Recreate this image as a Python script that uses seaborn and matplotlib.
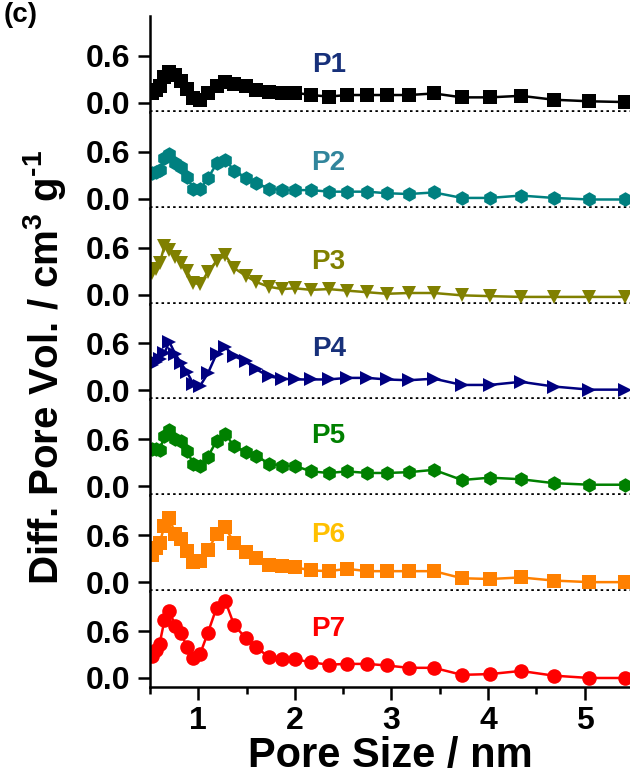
import matplotlib
matplotlib.use("Agg")
import matplotlib.pyplot as plt
import seaborn as sns

# pore size grid (nm)
pore_size = [0.52, 0.56, 0.60, 0.65, 0.70, 0.76, 0.82, 0.88, 0.95, 1.02, 1.10,
             1.19, 1.28, 1.37, 1.49, 1.60, 1.73, 1.87, 2.00, 2.17, 2.35, 2.54,
             2.75, 2.95, 3.18, 3.44, 3.73, 4.02, 4.34, 4.68, 5.05, 5.42]

p1 = [0.12, 0.16, 0.22, 0.33, 0.40, 0.35, 0.28, 0.18, 0.06, 0.04, 0.13,
      0.22, 0.27, 0.24, 0.21, 0.17, 0.14, 0.13, 0.13, 0.10, 0.08, 0.10,
      0.10, 0.10, 0.10, 0.12, 0.07, 0.07, 0.09, 0.04, 0.02, 0.01]
p2 = [0.33, 0.34, 0.37, 0.52, 0.57, 0.46, 0.40, 0.28, 0.13, 0.12, 0.26,
      0.45, 0.50, 0.36, 0.27, 0.20, 0.13, 0.11, 0.11, 0.11, 0.09, 0.09,
      0.09, 0.07, 0.06, 0.08, 0.01, 0.01, 0.04, 0.01, -0.01, -0.01]
p3 = [0.28, 0.33, 0.40, 0.62, 0.57, 0.48, 0.40, 0.30, 0.15, 0.13, 0.29,
      0.43, 0.50, 0.34, 0.24, 0.16, 0.10, 0.07, 0.08, 0.06, 0.07, 0.05,
      0.03, 0.01, 0.02, 0.02, -0.01, -0.02, -0.03, -0.03, -0.03, -0.03]
p4 = [0.32, 0.36, 0.40, 0.48, 0.62, 0.47, 0.35, 0.24, 0.08, 0.06, 0.22,
      0.47, 0.55, 0.44, 0.37, 0.27, 0.18, 0.15, 0.14, 0.14, 0.14, 0.16,
      0.16, 0.14, 0.13, 0.15, 0.07, 0.07, 0.11, 0.05, 0.01, 0.01]
p5 = [0.48, 0.47, 0.46, 0.64, 0.72, 0.61, 0.58, 0.45, 0.29, 0.26, 0.38,
      0.58, 0.67, 0.51, 0.44, 0.39, 0.29, 0.26, 0.26, 0.19, 0.17, 0.19,
      0.17, 0.17, 0.18, 0.21, 0.08, 0.11, 0.09, 0.04, 0.02, 0.02]
p6 = [0.35, 0.43, 0.50, 0.72, 0.82, 0.62, 0.55, 0.40, 0.26, 0.27, 0.41,
      0.61, 0.70, 0.50, 0.38, 0.31, 0.22, 0.20, 0.19, 0.15, 0.14, 0.17,
      0.14, 0.14, 0.14, 0.14, 0.05, 0.04, 0.06, 0.02, 0.00, 0.00]
p7 = [0.28, 0.36, 0.44, 0.74, 0.86, 0.67, 0.58, 0.40, 0.25, 0.31, 0.58,
      0.90, 0.98, 0.68, 0.51, 0.39, 0.27, 0.24, 0.24, 0.20, 0.17, 0.18,
      0.18, 0.16, 0.13, 0.13, 0.04, 0.05, 0.09, 0.03, 0.00, 0.00]

samples = ["P1", "P2", "P3", "P4", "P5", "P6", "P7"]
series = [p1, p2, p3, p4, p5, p6, p7]
line_colors = ["#000000", "#008080", "#808000", "#000080", "#008000", "#FF8000", "#FF0000"]
label_colors = ["#17307A", "#31859C", "#808000", "#17307A", "#008000", "#FFC000", "#FF0000"]
markers = ["s", "h", "v", ">", "h", "s", "o"]
label_y = [0.48, 0.45, 0.41, 0.53, 0.64, 0.60, 0.62]

sns.set_style("ticks")
plt.rcParams["font.family"] = ["Liberation Sans", "DejaVu Sans"]
plt.rcParams["font.weight"] = "bold"
plt.rcParams["text.color"] = "black"
plt.rcParams["axes.labelcolor"] = "black"
plt.rcParams["axes.edgecolor"] = "black"
plt.rcParams["xtick.color"] = "black"
plt.rcParams["ytick.color"] = "black"
plt.rcParams["mathtext.fontset"] = "custom"
plt.rcParams["mathtext.rm"] = "Liberation Sans:bold"
plt.rcParams["mathtext.bf"] = "Liberation Sans:bold"
plt.rcParams["mathtext.default"] = "bf"

fig = plt.figure(figsize=(6.3, 7.82), dpi=100)
W, H = 630, 782
left_px, top_px, bot_px = 150, 16, 687
h_px = (bot_px - top_px) / 7

axes = []
for i in range(7):
    y0 = (H - bot_px + (6 - i) * h_px) / H
    ax = fig.add_axes([left_px / W, y0, 1 - left_px / W, h_px / H])
    axes.append(ax)

for i, ax in enumerate(axes):
    sns.lineplot(x=pore_size, y=series[i], ax=ax, color=line_colors[i],
                 marker=markers[i], markersize=10.5, markeredgewidth=0,
                 linewidth=1.8, sort=False)
    ax.set_xlim(0.5, 5.47)
    ax.set_ylim(-0.115, 1.109)
    ax.set_yticks([0.0, 0.6])
    ax.set_yticklabels(["0.0", "0.6"])
    ax.tick_params(axis="y", direction="out", length=9, width=1.8,
                   labelsize=23, pad=5)
    for s in ["top", "right"]:
        ax.spines[s].set_visible(False)
    ax.spines["left"].set_linewidth(1.8)
    ax.text(2.35, label_y[i], samples[i], ha="center", va="center",
            fontsize=20, fontweight="bold", color=label_colors[i])
    if i < 6:
        # dotted separator between stacked panels
        ax.spines["bottom"].set_visible(False)
        ax.axhline(-0.115, color="black", linewidth=2.6,
                   linestyle=(0, (0.7, 0.9)), clip_on=False, zorder=1)
        ax.tick_params(axis="x", bottom=False, labelbottom=False)
    else:
        ax.spines["bottom"].set_linewidth(1.8)
        ax.set_xticks([1, 2, 3, 4, 5])
        ax.set_xticks([0.5, 1.5, 2.5, 3.5, 4.5], minor=True)
        ax.tick_params(axis="x", which="major", direction="out", length=9,
                       width=1.8, labelsize=23, pad=5)
        ax.tick_params(axis="x", which="minor", direction="out", length=5,
                       width=1.8)
        ax.set_xlabel("Pore Size / nm", fontsize=30, fontweight="bold", labelpad=0)

fig.text(45 / W, 1 - 367 / H, "Diff. Pore Vol. / cm$^{3}$ g$^{\u20101}$",
         rotation=90, ha="center", va="center", fontsize=29, fontweight="bold")
fig.text(0.005, 1 - 22 / H, "(c)", ha="left", va="baseline",
         fontsize=20, fontweight="bold")

fig.savefig("out.png", dpi=100)
